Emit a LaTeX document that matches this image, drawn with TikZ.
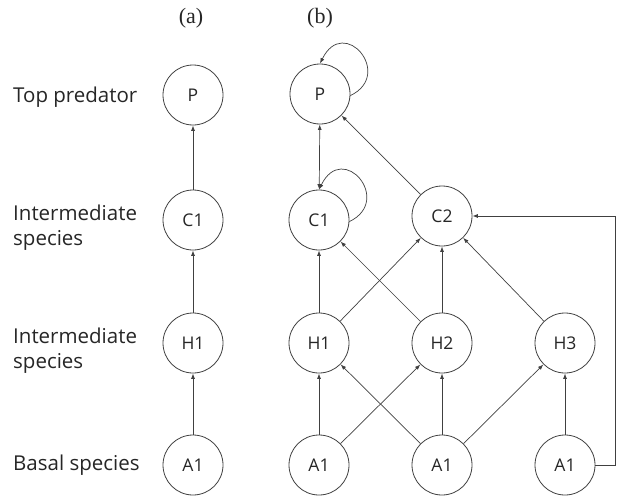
\documentclass[tikz,border=0pt]{standalone}
\usepackage{fontspec}
\setmainfont{Open Sans}
\newfontfamily\serifpanel{Liberation Serif}
\usetikzlibrary{arrows.meta}
\definecolor{ink}{HTML}{262626}
\definecolor{edge}{HTML}{404040}
\begin{document}
\begin{tikzpicture}[x=1pt,y=-1pt,
  species/.style={circle,draw=edge,line width=0.8pt,minimum size=60pt,inner sep=0pt,
    text=ink,font=\fontsize{17.5}{20}\selectfont},
  level/.style={anchor=west,align=left,text=ink,inner sep=0pt,
    font=\fontsize{20.5}{25}\selectfont},
  panel/.style={text=ink,font=\serifpanel\fontsize{22}{26}\selectfont},
  feed/.style={draw=edge,line width=0.7pt,-{Latex[length=5.5pt,width=4pt]}},
  both/.style={draw=edge,line width=0.7pt,{Latex[length=5.5pt,width=4pt]}-{Latex[length=5.5pt,width=4pt]}}]
\useasboundingbox (0,0) rectangle (617,495);

% panel labels
\node[panel] (la) at (191,18) {(a)};
\node[panel] (lb) at (320,18) {(b)};

% trophic level labels
\node[level] (top) at (13,97) {Top predator};
\node[level] (int1) at (13,228) {Intermediate\\species};
\node[level] (int2) at (13,351) {Intermediate\\species};
\node[level] (bas) at (13,465) {Basal species};

% (a) linear chain
\node[species] (aP) at (193,95) {P};
\node[species] (aC) at (193,220) {C1};
\node[species] (aH) at (193,343) {H1};
\node[species] (aA) at (193,465) {A1};
\draw[feed] (aA) -- (aH);
\draw[feed] (aH) -- (aC);
\draw[feed] (aC) -- (aP);

% (b) food web
\node[species] (P) at (320,94) {P};
\node[species] (C1) at (319,220) {C1};
\node[species] (C2) at (442,216) {C2};
\node[species] (H1) at (319,343) {H1};
\node[species] (H2) at (442,343) {H2};
\node[species] (H3) at (565,343) {H3};
\node[species] (A1) at (319,465) {A1};
\node[species] (A2) at (442,465) {A1};
\node[species] (A3) at (565,465) {A1};
\coordinate (turnlow) at (615,465);
\coordinate (turnhigh) at (615,216);

% self loops
\draw[feed] (P.-3) .. controls +(44,-21) and +(24,-49) .. (P.north);
\draw[feed] (C1.-3) .. controls +(44,-21) and +(24,-49) .. (C1.north);

% links
\draw[both] (P) -- (C1);
\draw[feed] (C2) -- (P);
\draw[feed] (H1) -- (C1);
\draw[feed] (H1) -- (C2);
\draw[feed] (H2) -- (C1);
\draw[feed] (H2) -- (C2);
\draw[feed] (H3) -- (C2);
\draw[feed] (A1) -- (H1);
\draw[feed] (A1) -- (H2);
\draw[feed] (A2) -- (H1);
\draw[feed] (A2) -- (H2);
\draw[feed] (A2) -- (H3);
\draw[feed] (A3) -- (H3);
\draw[feed] (A3.east) -- (turnlow) -- (turnhigh) -- (C2.east);
\end{tikzpicture}
\end{document}
